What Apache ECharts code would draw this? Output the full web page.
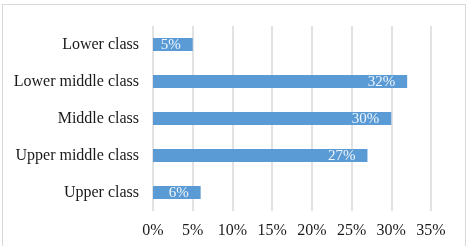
<!DOCTYPE html>
<html>
<head>
<meta charset="utf-8">
<script src="https://cdn.jsdelivr.net/npm/echarts@6/dist/echarts.min.js"></script>
<style>
  html, body { margin: 0; padding: 0; background: #fff; }
  #frame {
    position: absolute; left: 2px; top: 4px;
    width: 464px; height: 250px;
    border: 1px solid #d9d9d9; box-sizing: border-box;
  }
  #chart { position: absolute; left: 0; top: 0; width: 473px; height: 246px; }
</style>
</head>
<body>
<div id="frame"></div>
<div id="chart"></div>
<script>
// categories listed bottom to top, like the axis
const classes = ['Upper class', 'Upper middle class', 'Middle class', 'Lower middle class', 'Lower class'];
const shares = [6, 27, 30, 32, 5];
const tickMax = 35;
const tickStep = 5;

const chart = echarts.init(document.getElementById('chart'));
const serif = 'Liberation Serif, Times New Roman, serif';

chart.setOption({
  animation: false,
  grid: { left: 153, right: 42, top: 26, bottom: 35, containLabel: false },
  xAxis: {
    type: 'value',
    min: 0,
    max: tickMax,
    interval: tickStep,
    axisLine: { show: false },
    axisTick: { show: false },
    splitLine: { lineStyle: { color: '#d9d9d9', width: 1.5 } },
    axisLabel: {
      formatter: '{value}%',
      color: '#1a1a1a',
      fontFamily: serif,
      fontSize: 16,
      margin: 12
    }
  },
  yAxis: {
    type: 'category',
    data: classes,
    axisLine: { show: false },
    axisTick: { show: false },
    axisLabel: {
      color: '#1a1a1a',
      fontFamily: serif,
      fontSize: 16,
      margin: 14
    }
  },
  series: [{
    type: 'bar',
    data: shares,
    barWidth: 13,
    itemStyle: { color: '#5b9bd5' },
    label: {
      show: true,
      position: 'insideRight',
      distance: 12,
      formatter: '{c}%',
      color: 'rgba(255,255,255,0.9)',
      fontFamily: serif,
      fontSize: 15,
      offset: [0, 1]
    }
  }]
});
</script>
</body>
</html>
